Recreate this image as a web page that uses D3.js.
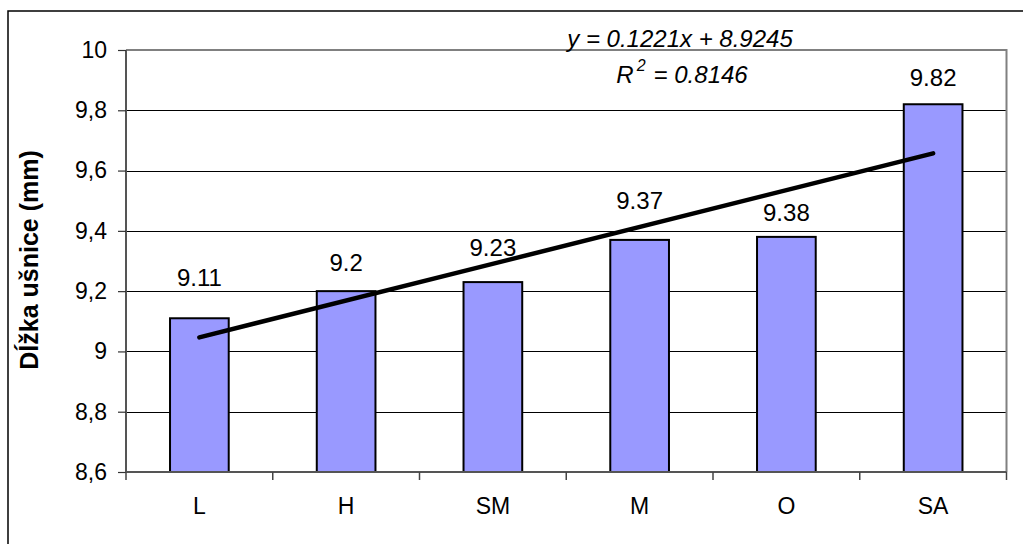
<!DOCTYPE html>
<html><head><meta charset="utf-8">
<script src="https://cdn.jsdelivr.net/npm/d3@7"></script>
<style>html,body{margin:0;padding:0;background:#fff;}svg{display:block;font-family:"Liberation Sans",Arial,sans-serif;}</style>
</head><body>
<svg id="chart" width="1023" height="544"></svg>
<script>
const categories = ["L", "H", "SM", "M", "O", "SA"];
const values = [9.11, 9.2, 9.23, 9.37, 9.38, 9.82];
const valueLabels = ["9.11", "9.2", "9.23", "9.37", "9.38", "9.82"];
const yTicks = [8.6, 8.8, 9.0, 9.2, 9.4, 9.6, 9.8, 10.0];
const trendSlope = 0.1221, trendIntercept = 8.9245, trendR2 = 0.8146;
const yTitle = "Dĺžka ušnice (mm)";

// layout (label gaps above bars, as placed in the original)
const labelGap = [32, 20, 26, 31, 16, 18];

const svg = d3.select("#chart");
const m = {left: 126, top: 50, right: 1006.5, bottom: 472};
const FONT = "Liberation Sans, Arial, sans-serif";

// outer frame
svg.append("rect").attr("x", 8).attr("y", 11).attr("width", 1030).attr("height", 560)
  .attr("fill", "none").attr("stroke", "#000").attr("stroke-width", 1.5);

const x = d3.scaleBand().domain(categories).range([m.left, m.right]).paddingInner(0).paddingOuter(0);
const y = d3.scaleLinear().domain([8.6, 10]).range([m.bottom, m.top]);

// gridlines
svg.append("g").selectAll("line").data(yTicks.filter(t => t > 8.6 && t < 10)).join("line")
  .attr("x1", m.left).attr("x2", m.right)
  .attr("y1", d => Math.round(y(d)) + 0.5).attr("y2", d => Math.round(y(d)) + 0.5)
  .attr("stroke", "#000").attr("stroke-width", 1);

// plot border top/right gray
svg.append("path")
  .attr("d", `M${m.left},${y(10)}H${m.right}V${m.bottom}`)
  .attr("fill", "none").attr("stroke", "#808080").attr("stroke-width", 2);

// bars
const bw = x.bandwidth() * 0.4;
svg.append("g").selectAll("rect").data(values).join("rect")
  .attr("x", (d, i) => x(categories[i]) + (x.bandwidth() - bw) / 2)
  .attr("y", d => y(d))
  .attr("width", bw)
  .attr("height", d => y(8.6) - y(d))
  .attr("fill", "#9999ff").attr("stroke", "#000").attr("stroke-width", 2);

// y axis
const yAxis = svg.append("g").attr("transform", `translate(${m.left},0)`)
  .call(d3.axisLeft(y).tickValues(yTicks).tickSize(8).tickPadding(11)
    .tickFormat(d => d3.format("~g")(d).replace(".", ",")));
yAxis.select(".domain").attr("stroke", "#555").attr("stroke-width", 2).attr("d", `M0,${y(10)}V${m.bottom}`);
yAxis.selectAll(".tick line").attr("stroke", "#333").attr("stroke-width", 1.2);
yAxis.selectAll(".tick text").attr("font-size", 23).attr("fill", "#000").attr("font-family", FONT);

// x axis
const xAxis = svg.append("g").attr("transform", `translate(0,${m.bottom})`)
  .call(d3.axisBottom(x).tickSize(0).tickPadding(26));
xAxis.select(".domain").attr("stroke", "#555").attr("stroke-width", 2).attr("d", `M${m.left},0H${m.right}`);
xAxis.selectAll(".tick text").attr("font-size", 23).attr("fill", "#000").attr("font-family", FONT);
// category boundary ticks
const bounds = categories.map(c => x(c)).concat([m.right]);
svg.append("g").selectAll("line").data(bounds).join("line")
  .attr("x1", d => d).attr("x2", d => d)
  .attr("y1", m.bottom).attr("y2", m.bottom + 8)
  .attr("stroke", "#444").attr("stroke-width", 1.5);

// trendline
const cx = i => x(categories[i]) + x.bandwidth() / 2;
svg.append("line")
  .attr("x1", cx(0)).attr("y1", y(trendIntercept + trendSlope * 1))
  .attr("x2", cx(5)).attr("y2", y(trendIntercept + trendSlope * 6))
  .attr("stroke", "#000").attr("stroke-width", 4.5).attr("stroke-linecap", "round");

// value labels
svg.append("g").selectAll("text").data(values).join("text")
  .attr("x", (d, i) => cx(i))
  .attr("y", (d, i) => y(d) - labelGap[i])
  .attr("text-anchor", "middle").attr("font-size", 24).attr("fill", "#000")
  .text((d, i) => valueLabels[i]);

// equation
svg.append("text").attr("x", 680).attr("y", 47).attr("text-anchor", "middle")
  .attr("font-size", 24).attr("font-style", "italic")
  .text(`y = ${trendSlope}x + ${trendIntercept}`);
const r2 = svg.append("text").attr("x", 682).attr("y", 83).attr("text-anchor", "middle")
  .attr("font-size", 24).attr("font-style", "italic").attr("xml:space", "preserve");
r2.append("tspan").text("R");
r2.append("tspan").attr("font-size", 16).attr("dy", -12).attr("dx", 3).text("2");
r2.append("tspan").attr("dy", 12).attr("dx", 8).text("= " + trendR2);

// y title
svg.append("text").attr("transform", "translate(38,260) rotate(-90)")
  .attr("text-anchor", "middle").attr("font-size", 25).attr("font-weight", "bold")
  .text(yTitle);
</script>
</body></html>
